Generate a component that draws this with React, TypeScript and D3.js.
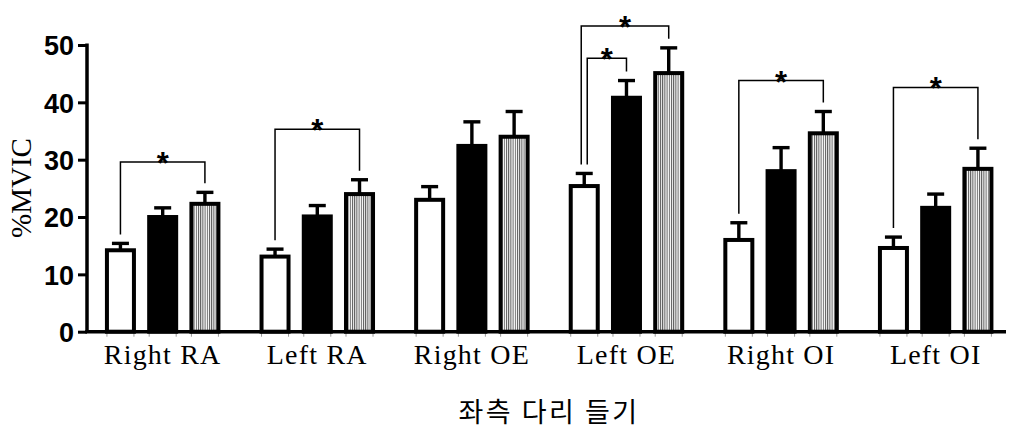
import { useEffect, useRef } from 'react'
import * as d3 from 'd3'

// muscles on the x axis
const muscles = ['Right RA', 'Left RA', 'Right OE', 'Left OE', 'Right OI', 'Left OI']
const conditions = ['white', 'black', 'hatched']

// mean %MVIC and SE for each condition
const whiteMean = [14.2, 13.1, 23.0, 25.4, 16.0, 14.6]
const whiteErr = [1.2, 1.3, 2.3, 2.2, 3.0, 1.9]
const blackMean = [20.0, 20.1, 32.4, 40.8, 28.0, 21.6]
const blackErr = [1.6, 1.9, 4.2, 3.0, 4.1, 2.4]
const hatchedMean = [22.3, 24.0, 34.0, 45.1, 34.6, 28.4]
const hatchedErr = [2.0, 2.5, 4.4, 4.4, 3.8, 3.6]

const yTicks = [0, 10, 20, 30, 40, 50]

// significance brackets: muscle, from condition, to condition, bracket level
const sigMuscle = ['Right RA', 'Left RA', 'Left OE', 'Left OE', 'Right OI', 'Left OI']
const sigFrom = ['white', 'white', 'white', 'white', 'white', 'white']
const sigTo = ['hatched', 'hatched', 'hatched', 'black', 'hatched', 'hatched']
const sigLevel = [29.6, 35.3, 53.3, 47.7, 43.8, 42.6]

export default function App() {
  const svgRef = useRef<SVGSVGElement>(null)

  useEffect(() => {
    if (!svgRef.current) return
    const width = 1010
    const height = 429

    const svg = d3.select(svgRef.current)
    svg.selectAll('*').remove()
    svg.attr('width', width).attr('height', height)

    const defs = svg.append('defs')
    const pat = defs.append('pattern')
      .attr('id', 'vhatch')
      .attr('patternUnits', 'userSpaceOnUse')
      .attr('width', 2.2).attr('height', 10)
    pat.append('rect').attr('width', 2.2).attr('height', 10).attr('fill', '#fff')
    pat.append('rect').attr('width', 1).attr('height', 10).attr('fill', '#555')

    const axisX = 87
    const step = 154.6
    const pIn = 0.253
    const pOut = 0.116

    const x0 = d3.scaleBand<string>()
      .domain(muscles)
      .range([axisX, axisX + step * (muscles.length - pIn + 2 * pOut)])
      .paddingInner(pIn)
      .paddingOuter(pOut)

    const x1 = d3.scaleBand<string>()
      .domain(conditions)
      .range([0, x0.bandwidth()])
      .paddingInner(0.266)
      .paddingOuter(0)

    const y = d3.scaleLinear().domain([0, 50]).range([331.7, 45])

    const means: Record<string, number[]> = { white: whiteMean, black: blackMean, hatched: hatchedMean }
    const errs: Record<string, number[]> = { white: whiteErr, black: blackErr, hatched: hatchedErr }
    const fills: Record<string, string> = { white: '#fff', black: '#000', hatched: 'url(#vhatch)' }

    const data = muscles.flatMap((m, i) => conditions.map(c => ({
      muscle: m, cond: c, mean: means[c][i], err: errs[c][i]
    })))

    const bx = (d: { muscle: string, cond: string }) => (x0(d.muscle) ?? 0) + (x1(d.cond) ?? 0)
    const bw = x1.bandwidth()
    const sw = 4
    const ew = 3.4

    // small ticks under the axis at each bar edge
    const edges = data.flatMap(d => [bx(d) + 2, bx(d) + bw - 2])
    svg.selectAll('.edge')
      .data(edges)
      .enter().append('line')
      .attr('x1', d => d).attr('x2', d => d)
      .attr('y1', y(0)).attr('y2', y(0) + 5)
      .attr('stroke', '#999').attr('stroke-width', 1)

    // bars
    svg.selectAll('.bar')
      .data(data)
      .enter().append('rect')
      .attr('x', d => bx(d) + sw / 2)
      .attr('y', d => y(d.mean))
      .attr('width', bw - sw)
      .attr('height', d => y(0) - y(d.mean))
      .attr('fill', d => fills[d.cond])
      .attr('stroke', '#000')
      .attr('stroke-width', sw)

    // error bars (upper only)
    const eb = svg.selectAll('.err').data(data).enter().append('g')
    eb.append('line')
      .attr('x1', d => bx(d) + bw / 2).attr('x2', d => bx(d) + bw / 2)
      .attr('y1', d => y(d.mean)).attr('y2', d => y(d.mean + d.err))
      .attr('stroke', '#000').attr('stroke-width', ew)
    eb.append('line')
      .attr('x1', d => bx(d) + bw / 2 - 8.5).attr('x2', d => bx(d) + bw / 2 + 8.5)
      .attr('y1', d => y(d.mean + d.err)).attr('y2', d => y(d.mean + d.err))
      .attr('stroke', '#000').attr('stroke-width', ew)

    // significance brackets
    const sig = sigMuscle.map((m, i) => {
      const same = sigMuscle.filter(s => s === m).length
      const idx = sigMuscle.slice(0, i).filter(s => s === m).length
      return { muscle: m, from: sigFrom[i], to: sigTo[i], level: sigLevel[i], nudge: (idx - (same - 1) / 2) * 6 }
    })
    const capY = (m: string, c: string) => {
      const i = muscles.indexOf(m)
      return y(means[c][i] + errs[c][i])
    }
    sig.forEach(s => {
      const xa = (x0(s.muscle) ?? 0) + (x1(s.from) ?? 0) + bw / 2 + s.nudge
      const xb = (x0(s.muscle) ?? 0) + (x1(s.to) ?? 0) + bw / 2
      const yl = y(s.level)
      svg.append('path')
        .attr('d', `M${xa},${capY(s.muscle, s.from) - 9}V${yl}H${xb}V${capY(s.muscle, s.to) - 9}`)
        .attr('fill', 'none')
        .attr('stroke', '#000')
        .attr('stroke-width', 1.5)
      svg.append('text')
        .attr('x', (xa + xb) / 2)
        .attr('y', yl + 12)
        .attr('text-anchor', 'middle')
        .attr('font-family', 'Liberation Sans, Arial, sans-serif')
        .attr('font-weight', 'bold')
        .attr('font-size', 31)
        .text('*')
    })

    // y axis
    const yAxis = svg.append('g')
      .attr('transform', `translate(${axisX},0)`)
      .call(d3.axisLeft(y).tickValues(yTicks).tickSize(9).tickPadding(4).tickFormat(d3.format('d')))
    yAxis.select('.domain').remove()
    yAxis.selectAll('.tick line').attr('stroke', '#000').attr('stroke-width', 3)
    yAxis.selectAll('.tick text')
      .attr('fill', '#000')
      .attr('font-family', 'Liberation Sans, Arial, sans-serif')
      .attr('font-weight', 'bold')
      .attr('font-size', 27)
      .attr('dy', '0.36em')
    svg.append('line')
      .attr('x1', axisX).attr('x2', axisX)
      .attr('y1', y(50) - 1.5).attr('y2', y(0))
      .attr('stroke', '#000').attr('stroke-width', 3.5)

    // x axis line
    svg.append('line')
      .attr('x1', axisX - 1.75).attr('x2', 1006)
      .attr('y1', y(0)).attr('y2', y(0))
      .attr('stroke', '#000').attr('stroke-width', 3.5)

    // x labels
    svg.selectAll('.xlab')
      .data(muscles)
      .enter().append('text')
      .attr('x', d => (x0(d) ?? 0) + x0.bandwidth() / 2)
      .attr('y', 364)
      .attr('text-anchor', 'middle')
      .attr('font-family', 'Liberation Serif, DejaVu Serif, serif')
      .attr('font-size', 28)
      .attr('letter-spacing', 1.2)
      .text(d => d)

    // axis titles
    svg.append('text')
      .attr('transform', 'translate(31,188) rotate(-90)')
      .attr('text-anchor', 'middle')
      .attr('font-family', 'Liberation Serif, DejaVu Serif, serif')
      .attr('font-size', 29)
      .text('%MVIC')

    svg.append('text')
      .attr('x', 549)
      .attr('y', 422)
      .attr('text-anchor', 'middle')
      .attr('font-family', 'Noto Sans CJK KR, sans-serif')
      .attr('font-size', 27)
      .attr('letter-spacing', 2.5)
      .text('좌측 다리 들기')
  }, [])

  return (
    <div style={{ position: 'absolute', left: 0, top: 0 }}>
      <svg ref={svgRef} style={{ display: 'block', background: '#fff' }} />
    </div>
  )
}
